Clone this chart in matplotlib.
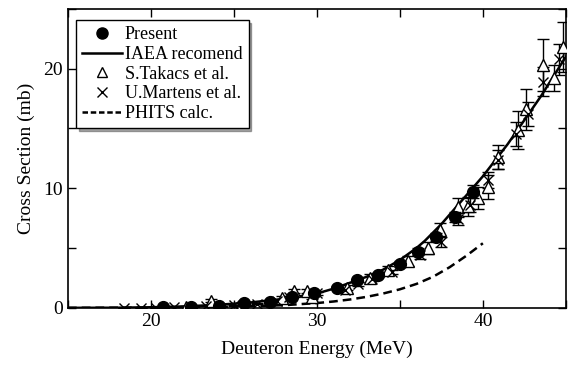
import numpy as np
import matplotlib
matplotlib.use("Agg")
import matplotlib.pyplot as plt
from matplotlib.ticker import MultipleLocator

# Present measurement
present_e = [20.7, 22.4, 24.1, 25.6, 27.2, 28.5, 29.8, 31.2, 32.4, 33.7, 35.0, 36.1, 37.2, 38.3, 39.4]
present_xs = [0.05, 0.1, 0.15, 0.4, 0.5, 0.9, 1.25, 1.7, 2.3, 2.75, 3.7, 4.7, 5.9, 7.6, 9.7]
present_err = [0.03, 0.03, 0.04, 0.05, 0.06, 0.08, 0.1, 0.12, 0.15, 0.2, 0.25, 0.3, 0.35, 0.45, 0.55]

# IAEA recommended curve
iaea_e = [15, 18, 20, 22, 24, 26, 28, 30, 31, 32, 33, 34, 35, 36, 36.5, 37, 37.5, 38, 38.5, 39,
          39.5, 40, 40.5, 41, 41.5, 42, 42.5, 43, 43.5, 44, 44.5, 45]
iaea_xs = [0.0, 0.01, 0.05, 0.12, 0.25, 0.45, 0.75, 1.2, 1.6, 2.1, 2.6, 3.2, 4.0, 5.0, 5.6, 6.3,
           7.0, 7.8, 8.6, 9.4, 10.2, 11.0, 11.9, 12.8, 13.7, 14.7, 15.7, 16.7, 17.7, 18.8, 19.9, 21.0]

# S.Takacs et al.
takacs_e = [22.1, 23.6, 25.5, 27.9, 28.6, 29.4, 29.7, 31.8, 33.2, 34.3, 35.5, 36.7, 37.4, 38.5,
            39.1, 39.7, 40.3, 40.9, 42.1, 42.6, 43.6, 44.3, 44.8]
takacs_xs = [0.1, 0.6, 0.3, 0.8, 1.4, 1.4, 0.9, 1.7, 2.5, 3.2, 3.9, 5.0, 6.5, 8.4,
             8.5, 9.2, 10.1, 12.6, 14.9, 16.6, 20.3, 19.2, 21.8]
takacs_err = [0.05, 0.1, 0.1, 0.15, 0.2, 0.2, 0.15, 0.2, 0.3, 0.3, 0.4, 0.5, 0.6, 0.8,
              0.8, 0.9, 1.0, 1.0, 1.6, 1.7, 2.2, 1.1, 2.1]

# U.Martens et al.
martens_e = [18.4, 19.4, 20.3, 21.4, 23.3, 25.0, 26.4, 27.6, 28.3, 30.0, 31.7, 32.5, 33.3, 34.5,
             36.2, 37.5, 38.5, 39.2, 40.3, 40.9, 42.0, 42.7, 43.6, 44.6]
martens_xs = [0.0, 0.0, 0.0, 0.05, 0.15, 0.2, 0.35, 0.6, 0.9, 1.2, 1.5, 2.0, 2.4, 3.0,
              4.4, 5.5, 7.4, 8.6, 10.7, 12.4, 14.5, 16.2, 18.9, 20.8]
martens_err = [0.0, 0.0, 0.0, 0.02, 0.03, 0.03, 0.05, 0.05, 0.08, 0.1, 0.1, 0.15, 0.15, 0.2,
               0.3, 0.4, 0.5, 0.6, 0.7, 0.8, 1.0, 1.0, 1.2, 1.3]

# PHITS calculation
phits_e = [15, 20, 25, 28, 30, 31, 32, 33, 34, 35, 36, 37, 38, 39, 40]
phits_xs = [0.0, 0.02, 0.1, 0.22, 0.4, 0.53, 0.7, 0.92, 1.2, 1.55, 2.0, 2.6, 3.4, 4.35, 5.4]

plt.rcParams['font.family'] = ['Liberation Serif', 'DejaVu Serif']

fig = plt.figure(figsize=(5.71, 3.70), dpi=100)
ax = fig.add_axes([0.119, 0.168, 0.872, 0.808])

ax.plot(iaea_e, iaea_xs, color='black', lw=1.8, label='IAEA recomend', zorder=3)
ax.plot(phits_e, phits_xs, color='black', lw=1.8, ls=(0, (3.5, 2)), label='PHITS calc.', zorder=3)

eb_kw = dict(ecolor='black', elinewidth=1, capsize=4, capthick=1, ls='none')
ax.errorbar(takacs_e, takacs_xs, yerr=takacs_err, marker='^', ms=8, mfc='white',
            mec='black', mew=1, zorder=4, **eb_kw)
ax.errorbar(martens_e, martens_xs, yerr=martens_err, marker='x', ms=7,
            mec='black', mew=1, zorder=4, **eb_kw)
ax.errorbar(present_e, present_xs, yerr=present_err, marker='o', ms=8.5, mfc='black',
            mec='black', zorder=5, **eb_kw)

ax.set_xlim(15, 45)
ax.set_ylim(0, 25)
ax.xaxis.set_major_locator(MultipleLocator(10))
ax.xaxis.set_minor_locator(MultipleLocator(5))
ax.yaxis.set_major_locator(MultipleLocator(10))
ax.yaxis.set_minor_locator(MultipleLocator(5))
ax.tick_params(which='both', direction='in', top=True, right=True, labelsize=14, width=1)
ax.tick_params(which='major', length=6)
ax.tick_params(which='minor', length=6)
for s in ax.spines.values():
    s.set_linewidth(1.2)

ax.set_xlabel('Deuteron Energy (MeV)', fontsize=14, labelpad=8)
ax.set_ylabel('Cross Section (mb)', fontsize=14, labelpad=6)

# legend proxies
h_present, = ax.plot([], [], 'o', color='black', ms=8)
h_iaea, = ax.plot([], [], color='black', lw=1.8)
h_tak, = ax.plot([], [], '^', mfc='white', mec='black', ms=7, ls='none')
h_mar, = ax.plot([], [], 'x', color='black', ms=7, ls='none')
h_phits, = ax.plot([], [], color='black', lw=1.8, ls=(0, (2.2, 1.1)))
leg = ax.legend([h_present, h_iaea, h_tak, h_mar, h_phits],
                ['Present', 'IAEA recomend', 'S.Takacs et al.', 'U.Martens et al.', 'PHITS calc.'],
                loc='upper left', bbox_to_anchor=(0.016, 0.963), fontsize=13,
                frameon=True, fancybox=False, shadow=True, edgecolor='black',
                framealpha=1, handlelength=2.2, handletextpad=0.15, labelspacing=0.15,
                borderpad=0.35, borderaxespad=0)
leg.get_frame().set_linewidth(1)

fig.savefig('out.png', dpi=100)
